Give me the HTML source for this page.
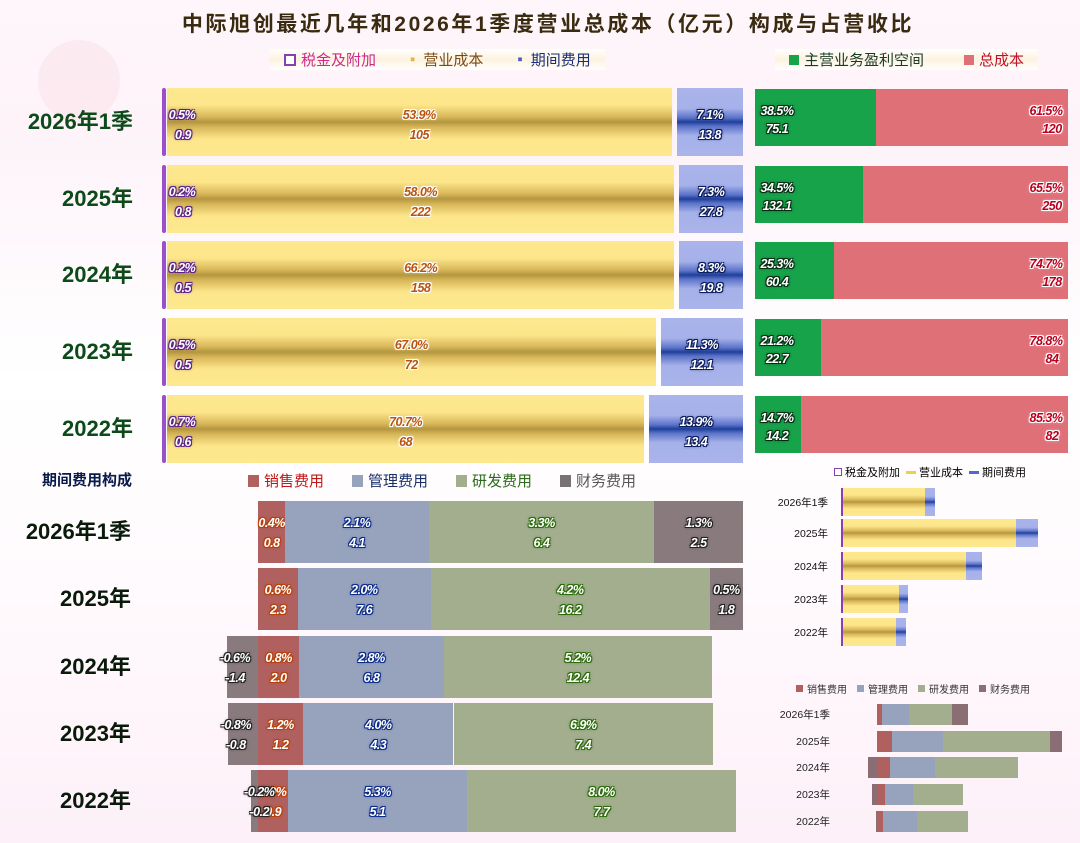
<!DOCTYPE html>
<html><head><meta charset="utf-8">
<style>
html,body{margin:0;padding:0}
body{width:1080px;height:843px;position:relative;overflow:hidden;font-family:"Liberation Sans","Noto Sans CJK SC",sans-serif;
background:linear-gradient(180deg,#fff6fb 0%,#fdf3f9 15%,#ffffff 45%,#fffafd 70%,#fdf0f8 100%);}
.a{position:absolute}
.lbl{position:absolute;font-family:"Liberation Sans Narrow","Liberation Sans",sans-serif;font-style:italic;font-weight:bold;font-size:12.5px;line-height:14px;white-space:nowrap;transform:translateX(-50%);letter-spacing:-0.5px}
.cat{position:absolute;font-weight:bold;font-size:22px;text-align:right;width:140px;line-height:26px;font-family:"Liberation Sans Narrow","Liberation Sans","Noto Sans CJK SC",sans-serif}
.leg{position:absolute;font-size:15px;white-space:nowrap;display:flex;align-items:center}
.sw{display:inline-block;width:10px;height:10px;margin-right:5px}
</style></head><body>
<div class="a" style="left:0;width:1096px;top:8px;text-align:center;font-size:21px;font-weight:bold;color:#3a2a10;letter-spacing:2.6px">中际旭创最近几年和2026年1季度营业总成本（亿元）构成与占营收比</div>
<div class="a" style="left:38px;top:40px;width:82px;height:82px;border-radius:50%;background:#fbe6ec;opacity:0.7"></div>

<div class="leg" style="left:270px;top:49px;padding:0 14px;background:linear-gradient(180deg,#fff 0%,#fdf2df 50%,#fff 100%)">
 <span class="sw" style="background:#fff;border:2px solid #8a3fb0;width:8px;height:8px"></span><span style="color:#cc2a8c">税金及附加</span>
 <span style="margin-left:34px;color:#e6b24a">▪</span><span style="margin-left:8px;color:#7a4a14">营业成本</span>
 <span style="margin-left:34px;color:#4a5fc0">▪</span><span style="margin-left:8px;color:#1a2f7a">期间费用</span></div>
<div class="leg" style="left:775px;top:49px;padding:0 14px;background:linear-gradient(180deg,#fff 0%,#fdf2df 50%,#fff 100%)">
 <span class="sw" style="background:#16a34a"></span><span style="color:#1a3a2a">主营业务盈利空间</span>
 <span class="sw" style="background:#e07078;margin-left:40px"></span><span style="color:#c0102a">总成本</span></div>
<div class="a" style="left:42px;top:469px;font-size:15px;font-weight:bold;color:#0a1a4a">期间费用构成</div>
<div class="leg" style="left:248px;top:470px;font-size:15px">
 <span class="sw" style="background:#b0605f;width:11px;height:12px"></span><span style="color:#c01818">销售费用</span>
 <span class="sw" style="background:#97a3bd;margin-left:28px;width:11px;height:12px"></span><span style="color:#1a2f6a">管理费用</span>
 <span class="sw" style="background:#a2ae8e;margin-left:28px;width:11px;height:12px"></span><span style="color:#2a6a1a">研发费用</span>
 <span class="sw" style="background:#7a7272;margin-left:28px;width:11px;height:12px"></span><span style="color:#555">财务费用</span></div>
<div class="leg" style="left:834px;top:464px;font-size:11px">
 <span class="sw" style="background:#fff;border:1.5px solid #8a3fb0;width:6px;height:6px;margin-right:3px"></span>税金及附加
 <span class="sw" style="background:#f1cf4a;height:3px;margin-left:6px;margin-right:3px"></span>营业成本
 <span class="sw" style="background:#4a6ad0;height:3px;margin-left:6px;margin-right:3px"></span>期间费用</div>
<div class="leg" style="left:796px;top:681px;font-size:10px;color:#333">
 <span class="sw" style="background:#b0605f;width:7px;height:7px;margin-right:4px"></span>销售费用
 <span class="sw" style="background:#97a3bd;width:7px;height:7px;margin-left:10px;margin-right:4px"></span>管理费用
 <span class="sw" style="background:#a2ae8e;width:7px;height:7px;margin-left:10px;margin-right:4px"></span>研发费用
 <span class="sw" style="background:#8a6e74;width:7px;height:7px;margin-left:10px;margin-right:4px"></span>财务费用</div>

<div id="root"></div>
<script>
const categories=["2026年1季","2025年","2024年","2023年","2022年"];
const taxPct=[0.5,0.2,0.2,0.5,0.7];
const taxVal=[0.9,0.8,0.5,0.5,0.6];
const opPct=[53.9,58.0,66.2,67.0,70.7];
const opVal=[105,222,158,72,68];
const perPct=[7.1,7.3,8.3,11.3,13.9];
const perVal=[13.8,27.8,19.8,12.1,13.4];
const profitPct=[38.5,34.5,25.3,21.2,14.7];
const profitVal=[75.1,132.1,60.4,22.7,14.2];
const costPct=[61.5,65.5,74.7,78.8,85.3];
const costVal=[120,250,178,84,82];
const salesPct=[0.4,0.6,0.8,1.2,0.9];
const salesVal=[0.8,2.3,2.0,1.2,0.9];
const mgmtPct=[2.1,2.0,2.8,4.0,5.3];
const mgmtVal=[4.1,7.6,6.8,4.3,5.1];
const rdPct=[3.3,4.2,5.2,6.9,8.0];
const rdVal=[6.4,16.2,12.4,7.4,7.7];
const finPct=[1.3,0.5,-0.6,-0.8,-0.2];
const finVal=[2.5,1.8,-1.4,-0.8,-0.2];

const root=document.getElementById('root');
function box(x,y,w,h,bg,name,extra){
 const d=document.createElement('div');d.className='a';
 d.style.cssText=`left:${x}px;top:${y}px;width:${Math.max(w,0)}px;height:${h}px;background:${bg};${extra||''}`;
 
 
 root.appendChild(d);return d;}
function txt(x,y,s,col,sh,name){
 const d=document.createElement('div');d.className='lbl';
 d.style.left=x+'px';d.style.top=y+'px';d.style.color=col;
 d.style.textShadow=`-1px -1px 0 ${sh},1px -1px 0 ${sh},-1px 1px 0 ${sh},1px 1px 0 ${sh},0 0 3px ${sh}`;
 d.textContent=s;
 
 
 root.appendChild(d);return d;}
function cat(x,y,s,col,size,name){
 const d=document.createElement('div');d.className='cat';
 d.style.left=(x-140)+'px';d.style.top=y+'px';d.style.color=col;d.style.fontSize=size+'px';
 d.textContent=s;
 
 
 root.appendChild(d);}
const yellowBg='linear-gradient(180deg,#fde88f 0%,#fde68a 25%,#d9b85a 42%,#b49640 50%,#d9b85a 58%,#fde68a 75%,#fde88f 100%)';
const blueBg='linear-gradient(180deg,#aab4ea 0%,#a6b1ea 30%,#5a72c8 44%,#1f3f9a 50%,#5a72c8 56%,#a6b1ea 70%,#aab4ea 100%)';
const f1=v=>v.toFixed(1);

const TL={x0:167,x1:743,gap:5,top:[88,165,241,318,395],h:68};
categories.forEach((c,i)=>{
 const y=TL.top[i],h=TL.h;
 cat(133,y+h/2-13,c,'#0d4a1a',22,'category-label-top-'+i);
 box(162,y,4,h,'#9b4fc8','bar-tax-'+i,'border-radius:2px');
 const tot=opPct[i]+perPct[i], span=TL.x1-TL.x0-TL.gap;
 const wo=span*opPct[i]/tot, wp=span*perPct[i]/tot;
 box(TL.x0,y,wo,h,yellowBg,'bar-opcost-'+i);
 box(TL.x0+wo+TL.gap,y,wp,h,blueBg,'bar-period-'+i);
 txt(182,y+h/2-14,taxPct[i].toFixed(1)+'%','#fff','#5a1f8a','label-tax-pct-'+i);
 txt(183,y+h/2+6,f1(taxVal[i]),'#fff','#5a1f8a','label-tax-val-'+i);
 txt(TL.x0+wo/2,y+h/2-14,opPct[i].toFixed(1)+'%','#b85410','#fff','label-opcost-pct-'+i);
 txt(TL.x0+wo/2,y+h/2+6,String(opVal[i]),'#b85410','#fff','label-opcost-val-'+i);
 const bx=TL.x0+wo+TL.gap+wp/2;
 txt(bx,y+h/2-14,perPct[i].toFixed(1)+'%','#fff','#0a1a5a','label-period-pct-'+i);
 txt(bx,y+h/2+6,f1(perVal[i]),'#fff','#0a1a5a','label-period-val-'+i);
 const RX0=755,RW=313,rh=57;
 const wg=RW*profitPct[i]/100;
 box(RX0,y+1,wg,rh,'#16a34a','bar-profit-'+i);
 box(RX0+wg,y+1,RW-wg,rh,'#e07078','bar-totalcost-'+i);
 txt(RX0+22,y+rh/2-13,profitPct[i].toFixed(1)+'%','#fff','#062a10','label-profit-pct-'+i);
 txt(RX0+22,y+rh/2+5,f1(profitVal[i]),'#fff','#062a10','label-profit-val-'+i);
 txt(RX0+RW-22,y+rh/2-13,costPct[i].toFixed(1)+'%','#b8001e','#fff','label-cost-pct-'+i);
 txt(RX0+RW-16,y+rh/2+5,String(costVal[i]),'#b8001e','#fff','label-cost-val-'+i);
});

const BL={zero:258,span:485,top:[501,568,636,703,770],h:62};
categories.forEach((c,i)=>{
 const y=BL.top[i],h=BL.h;
 cat(131,y+h/2-13,c,'#0a1a0a',22,'category-label-bottom-'+i);
 const segs=[[salesPct[i],salesVal[i],'#b0605f','#fff','#b8400a','sales'],[mgmtPct[i],mgmtVal[i],'#97a3bd','#fff','#0a2a8a','mgmt'],[rdPct[i],rdVal[i],'#a2ae8e','#fff','#2a6a0a','rd']];
 const absSum=Math.abs(salesPct[i])+Math.abs(mgmtPct[i])+Math.abs(rdPct[i])+Math.abs(finPct[i]);
 const k=BL.span/absSum;
 let x=BL.zero;
 segs.forEach(s=>{
  const w=s[0]*k;
  box(x,y,w,h,s[2],'bar-'+s[5]+'-'+i);
  txt(x+w/2,y+h/2-16,s[0].toFixed(1)+'%',s[3],s[4],'label-'+s[5]+'-pct-'+i);
  txt(x+w/2,y+h/2+4,f1(s[1]),s[3],s[4],'label-'+s[5]+'-val-'+i);
  x+=w;});
 let fx,fw=Math.abs(finPct[i])*k;
 if(finPct[i]>=0){fx=x;}else{fx=BL.zero-fw;}
 box(fx,y,fw,h,'#897a7e','bar-finance-'+i);
 const lx=finPct[i]>=0?fx+fw/2:fx+8;
 txt(lx,y+h/2-16,finPct[i].toFixed(1)+'%','#fff','#222','label-finance-pct-'+i);
 txt(lx,y+h/2+4,f1(finVal[i]),'#fff','#222','label-finance-val-'+i);
});

const MR={zero:841,k:0.782,cy:[502,533,566,599,632],h:28};
categories.forEach((c,i)=>{
 const d=document.createElement('div');d.className='a';
 d.style.cssText=`left:740px;width:88px;text-align:right;top:${MR.cy[i]-7}px;font-size:10.5px;color:#111`;
 d.textContent=c;
 
 
 root.appendChild(d);
 const y=MR.cy[i]-MR.h/2;
 box(MR.zero,y,1.5,MR.h,'#8a3fb0','minibar-tax-'+i);
 const wo=opVal[i]*MR.k, wp=perVal[i]*MR.k;
 box(MR.zero+1.5,y,wo,MR.h,yellowBg,'minibar-opcost-'+i);
 box(MR.zero+1.5+wo,y,wp,MR.h,blueBg,'minibar-period-'+i);
});

const BR={zero:877,k:6.63,cy:[714,741,767,794,821],h:21};
categories.forEach((c,i)=>{
 const d=document.createElement('div');d.className='a';
 d.style.cssText=`left:740px;width:90px;text-align:right;top:${BR.cy[i]-7}px;font-size:10.5px;color:#222`;
 d.textContent=c;
 
 
 root.appendChild(d);
 const y=BR.cy[i]-BR.h/2;
 let x=BR.zero;
 [[salesVal[i],'#b0605f','sales'],[mgmtVal[i],'#97a3bd','mgmt'],[rdVal[i],'#a2ae8e','rd']].forEach(s=>{
  const w=s[0]*BR.k; box(x,y,w,BR.h,s[1],'minibar-'+s[2]+'-'+i); x+=w;});
 const fw=Math.abs(finVal[i])*BR.k;
 box(finVal[i]>=0?x:BR.zero-fw,y,fw,BR.h,'#8a6e74','minibar-finance-'+i);
});
</script>
</body></html>
